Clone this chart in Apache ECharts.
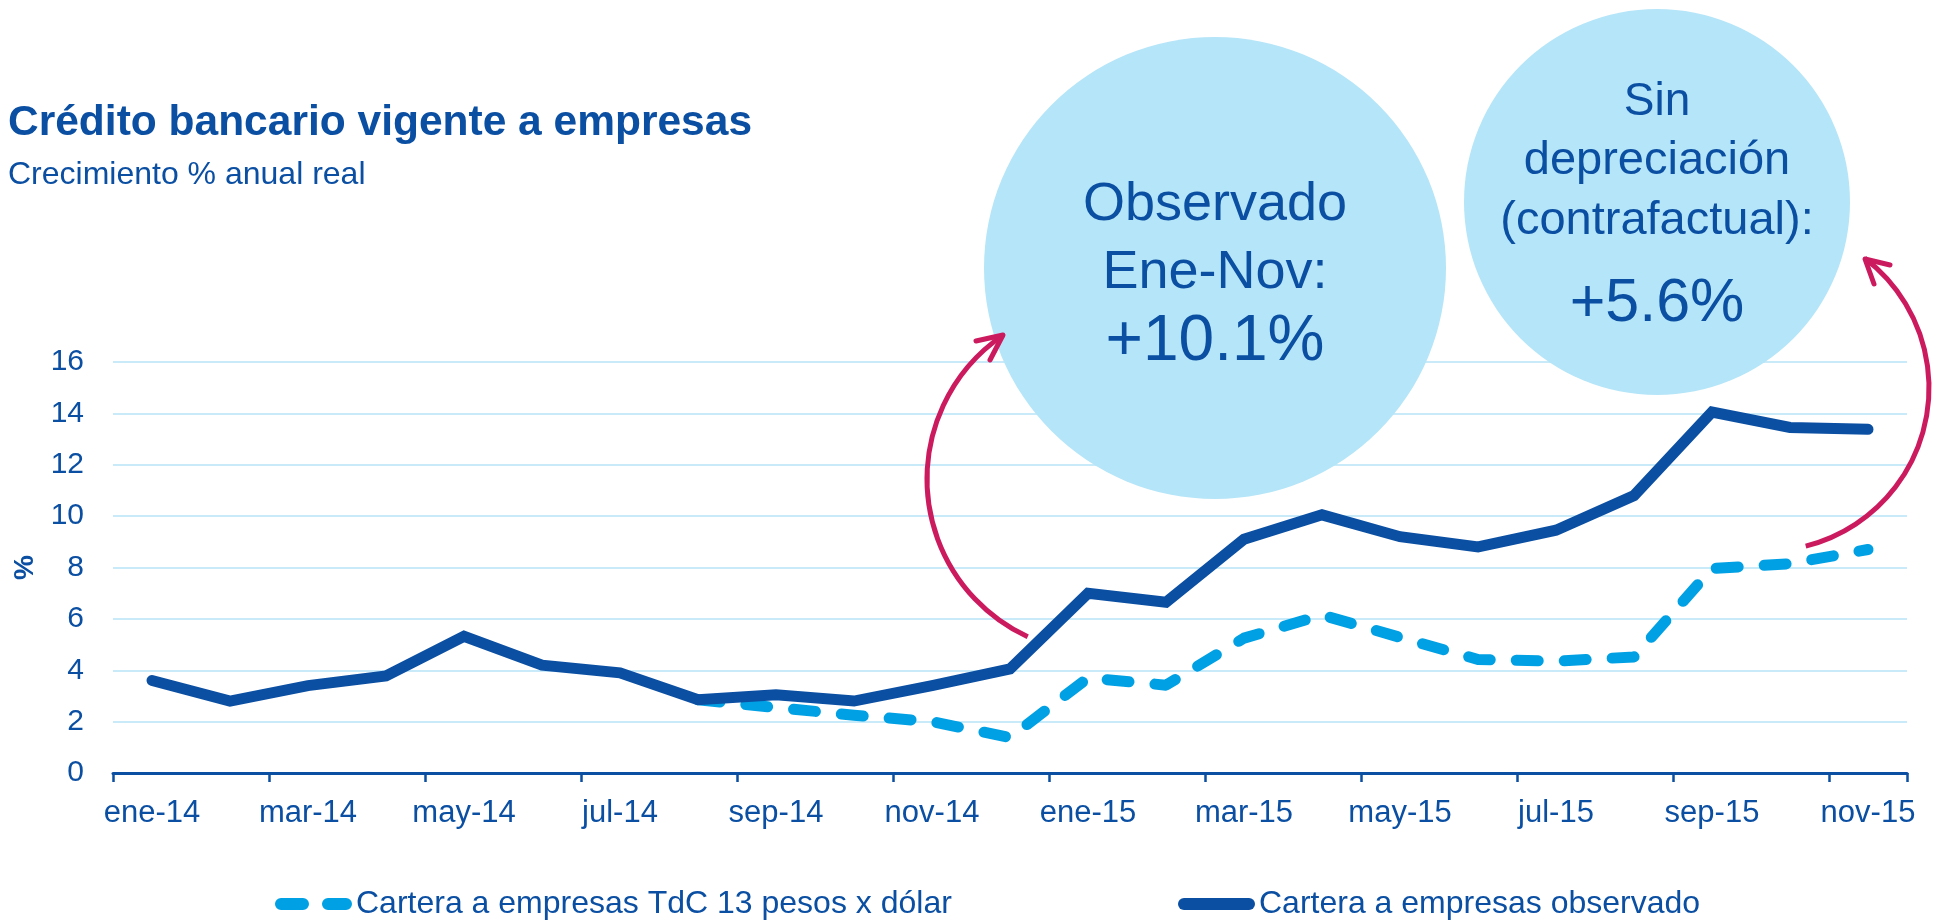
<!DOCTYPE html>
<html>
<head>
<meta charset="utf-8">
<title>Crédito bancario vigente a empresas</title>
<script src="https://cdn.jsdelivr.net/npm/echarts@6/dist/echarts.min.js"></script>
<style>
  html, body { margin: 0; padding: 0; background: #fff; }
  #chart { width: 1939px; height: 922px; }
</style>
</head>
<body>
<div id="chart"></div>
<script>
// meses ene-14 .. nov-15
const months = ['ene-14', 'feb-14', 'mar-14', 'abr-14', 'may-14', 'jun-14', 'jul-14', 'ago-14', 'sep-14', 'oct-14', 'nov-14', 'dic-14',
  'ene-15', 'feb-15', 'mar-15', 'abr-15', 'may-15', 'jun-15', 'jul-15', 'ago-15', 'sep-15', 'oct-15', 'nov-15']

const observado = [3.6, 2.8, 3.4, 3.78, 5.32, 4.2, 3.9, 2.85, 3.05, 2.8, 3.4, 4.05,
  7.0, 6.65, 9.1, 10.05, 9.2, 8.8, 9.45, 10.8, 14.05, 13.45, 13.38]

const tdc13 = [null, null, null, null, null, null, null, 2.85, 2.55, 2.25, 2.0, 1.38,
  3.7, 3.42, 5.25, 6.15, 5.28, 4.42, 4.35, 4.52, 7.96, 8.15, 8.7]

const yTicks = { min: 0, max: 16, interval: 2 }

const serieNames = ['Cartera a empresas TdC 13 pesos x dólar', 'Cartera a empresas observado']

const azul = '#0b4fa3'
const celeste = '#00a0e4'
const magenta = '#cc1a5f'
const burbuja = '#b5e5f8'
const font = '"Liberation Sans", Arial, sans-serif'

// iconos de leyenda (capsulas redondeadas)
const iconDashed = 'path://M6,0 H28 A6,6 0 0 1 28,12 H6 A6,6 0 0 1 6,0 Z M53,0 H71 A6,6 0 0 1 71,12 H53 A6,6 0 0 1 53,0 Z'
const iconSolid = 'path://M6,0 H71 A6,6 0 0 1 71,12 H6 A6,6 0 0 1 6,0 Z'

function legendItem(name, icon, left) {
  return {
    data: [{ name: name, icon: icon }],
    left: left,
    top: 888,
    height: 32,
    padding: 0,
    itemWidth: 77,
    itemHeight: 12,
    itemGap: 0,
    textStyle: { fontFamily: font, fontSize: 32, color: azul, lineHeight: 32, padding: [0, 0, 0, -1] }
  }
}

function bubbleText(x, y, text, size) {
  return {
    type: 'text', x: x, y: y, z: 11,
    style: { text: text, font: size + 'px ' + font, fill: azul, align: 'center', verticalAlign: 'middle' }
  }
}

const chart = echarts.init(document.getElementById('chart'))

chart.setOption({
  animation: false,
  textStyle: { fontFamily: font, color: azul },
  title: [
    {
      text: 'Crédito bancario vigente a empresas',
      left: 8,
      top: 102,
      padding: 0,
      textStyle: { fontFamily: font, fontSize: 42.5, fontWeight: 'bold', color: azul, lineHeight: 42 }
    },
    {
      text: 'Crecimiento % anual real',
      left: 8,
      top: 159,
      padding: 0,
      textStyle: { fontFamily: font, fontSize: 32, fontWeight: 'normal', color: azul, lineHeight: 32 }
    }
  ],
  grid: {
    left: 113,
    right: 32,
    top: 362,
    bottom: 149
  },
  legend: [
    legendItem(serieNames[0], iconDashed, 275),
    legendItem(serieNames[1], iconSolid, 1178)
  ],
  xAxis: {
    type: 'category',
    data: months,
    boundaryGap: true,
    axisLine: { lineStyle: { color: azul, width: 3 } },
    axisTick: { show: true, interval: 1, length: 9, lineStyle: { color: azul, width: 2.5 } },
    axisLabel: { interval: 1, color: azul, fontSize: 31, fontFamily: font, margin: 25 },
    splitLine: { show: false }
  },
  yAxis: {
    type: 'value',
    min: yTicks.min,
    max: yTicks.max,
    interval: yTicks.interval,
    name: '%',
    nameLocation: 'middle',
    nameRotate: 90,
    nameGap: 70,
    nameTextStyle: { fontFamily: font, fontSize: 28, fontWeight: 'bold', color: azul },
    axisLine: { show: false },
    axisTick: { show: false },
    axisLabel: { color: azul, fontSize: 30, fontFamily: font, margin: 29 },
    splitLine: { lineStyle: { color: '#c9eaf9', width: 2 } }
  },
  series: [
    {
      name: serieNames[0],
      type: 'line',
      data: tdc13,
      symbol: 'none',
      connectNulls: false,
      itemStyle: { color: celeste },
      lineStyle: { color: celeste, width: 11, type: [22, 26], cap: 'round', join: 'round' },
      z: 2
    },
    {
      name: serieNames[1],
      type: 'line',
      data: observado,
      symbol: 'none',
      itemStyle: { color: azul },
      lineStyle: { color: azul, width: 11, cap: 'round', join: 'miter' },
      z: 3
    }
  ],
  graphic: [
    // burbujas
    { type: 'circle', shape: { cx: 1215, cy: 268, r: 231 }, style: { fill: burbuja }, z: 10 },
    { type: 'circle', shape: { cx: 1657, cy: 202, r: 193 }, style: { fill: burbuja }, z: 10 },
    bubbleText(1215, 205, 'Observado', 54),
    bubbleText(1215, 273, 'Ene-Nov:', 54),
    bubbleText(1215, 342, '+10.1%', 64),
    bubbleText(1657, 102, 'Sin', 46),
    bubbleText(1657, 161, 'depreciación', 47),
    bubbleText(1657, 221, '(contrafactual):', 47),
    bubbleText(1657, 304, '+5.6%', 61),
    // flechas
    {
      type: 'arc', z: 12,
      shape: { cx: 1101, cy: 479, r: 174, startAngle: 114.9 * Math.PI / 180, endAngle: 235.7 * Math.PI / 180, clockwise: true },
      style: { stroke: magenta, lineWidth: 5, fill: 'none' }
    },
    {
      type: 'polyline', z: 12,
      shape: { points: [[976, 341], [1003, 335], [990, 360]] },
      style: { stroke: magenta, lineWidth: 5, fill: 'none', lineCap: 'round', lineJoin: 'round' }
    },
    {
      type: 'arc', z: 12,
      shape: { cx: 1766, cy: 388, r: 163, startAngle: -52.7 * Math.PI / 180, endAngle: 75.9 * Math.PI / 180, clockwise: true },
      style: { stroke: magenta, lineWidth: 5, fill: 'none' }
    },
    {
      type: 'polyline', z: 12,
      shape: { points: [[1890, 265], [1865, 259], [1874, 284]] },
      style: { stroke: magenta, lineWidth: 5, fill: 'none', lineCap: 'round', lineJoin: 'round' }
    }
  ]
})
</script>
</body>
</html>
